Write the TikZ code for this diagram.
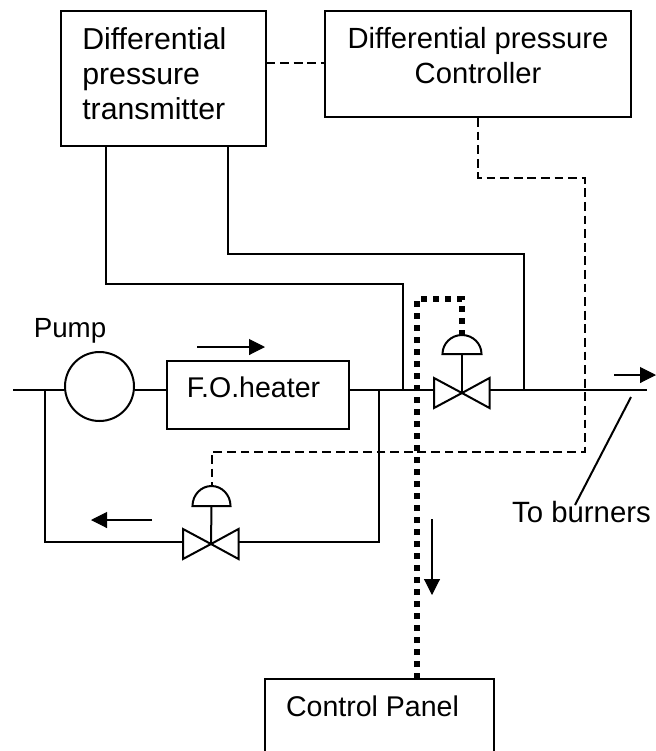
\documentclass[tikz,border=0pt]{standalone}
\usepackage{fontspec}
\setmainfont{Liberation Sans}
\usetikzlibrary{arrows.meta}
\tikzset{
 x=0.75pt,y=-0.75pt,
 box/.style={draw,line width=1.5pt,inner sep=0pt,minimum width=#1},
 lbl/.style={font=\fontsize{#1}{26.25}\selectfont,inner sep=0pt},
 pipe/.style={line width=1.5pt},
 sig/.style={line width=1.5pt,dash pattern=on 6.6pt off 3.6pt},
 heavydots/.style={line width=4.6pt,dash pattern=on 4.5pt off 4.5pt},
 arr/.style={line width=0.8pt,-{Triangle[length=12pt,width=12pt]},shorten >=0pt},
 valve/.style={draw,line width=1.5pt,line join=miter},
}
\begin{document}
\begin{tikzpicture}
\useasboundingbox (0,0) rectangle (656,751);
% boxes
\node[box=153.75pt,minimum height=101.25pt] (tx) at (163,78.5) {};
\node[box=229.5pt,minimum height=79.5pt] (ctl) at (478,64) {};
\node[box=136.5pt,minimum height=51pt] (heater) at (258,394.5) {};
\node[circle,draw,line width=1.5pt,minimum size=51.75pt,inner sep=0pt] (pumpc) at (99.5,386.5) {};
% texts
\node[lbl=22.7,align=left,anchor=north west] (t1) at (82,27) {Differential\\pressure\\transmitter};
\node[lbl=21.9,align=center,anchor=north] (t2) at (478,27) {Differential pressure\\Controller};
\node[lbl=20.8,anchor=base] (pump) at (70,337) {Pump};
\node[lbl=21.4,anchor=base] (htext) at (253.5,397) {F.O.heater};
\node[lbl=22,anchor=base] (burn) at (581.5,522) {To burners};
\node[lbl=21.4,anchor=base] (panel) at (372.5,716.5) {Control Panel};
% control panel, open at the page bottom
\coordinate (pbl) at (265,751);
\coordinate (ptl) at (265,679);
\coordinate (ptr) at (493.5,679);
\coordinate (pbr) at (493.5,751);
% signal lines
\coordinate (s1) at (478,177.5);
\coordinate (s2) at (584.5,177.5);
\coordinate (s3) at (584.5,451.5);
\coordinate (s4) at (212,451.5);
\coordinate (d2top) at (212,486);
\draw[sig] (tx.east|-0,63)--(ctl.west|-0,63);
\draw[sig] (ctl.south-|s1)--(s1)--(s2)--(s3)--(s4)--(d2top);
% impulse lines
\coordinate (a1) at (105.5,146);
\coordinate (a2) at (105.5,283.5);
\coordinate (a3) at (402.5,283.5);
\coordinate (a4) at (402.5,390);
\coordinate (b1) at (227.5,146);
\coordinate (b2) at (227.5,254);
\coordinate (b3) at (524,254);
\coordinate (b4) at (524,390);
\draw[pipe] (a1)--(a2)--(a3)--(a4);
\draw[pipe] (b1)--(b2)--(b3)--(b4);
% main pipe
\coordinate (in) at (13,390);
\coordinate (out) at (647,390);
\coordinate (v1c) at (462,393);
\coordinate (v2c) at (211,544);
\draw[pipe] (in)--(pumpc.west|-in);
\draw[pipe] (pumpc.east|-in)--(heater.west|-in);
\draw[pipe] (heater.east|-in)--(434,390);
\draw[pipe] (489,390)--(out);
% bypass
\coordinate (l1) at (45,390);
\coordinate (l2) at (45,542);
\coordinate (r1) at (379,390);
\coordinate (r2) at (379,542);
\draw[pipe] (l1)--(l2)--(183,542);
\draw[pipe] (238,542)--(r2)--(r1);
% valves
\draw[valve] (v1c)--(434,378)--(434,408)--cycle;
\draw[valve] (v1c)--(489.5,378)--(489.5,408)--cycle;
\draw[pipe] (v1c)--(462,354);
\draw[valve] (442.5,354)--(481.5,354) arc[start angle=0,end angle=180,x radius=19.5pt*0.75,y radius=19pt*0.75]--cycle;
\draw[valve] (v2c)--(183,529)--(183,559)--cycle;
\draw[valve] (v2c)--(238.5,529)--(238.5,559)--cycle;
\draw[pipe] (v2c)--(211.5,506);
\draw[valve] (192.5,506)--(230.5,506) arc[start angle=0,end angle=180,x radius=19pt*0.75,y radius=20pt*0.75]--cycle;
% heavy dotted signal
\coordinate (dt1) at (417,299);
\coordinate (dt2) at (462,299);
\coordinate (dt3) at (462,335);
\draw[heavydots] (ptl-|dt1)--(dt1)--(dt2)--(dt3);
\draw[box=0pt] (pbl)--(ptl)--(ptr)--(pbr);
% flow arrows
\coordinate (fa1) at (197,347); \coordinate (fa2) at (265,347);
\coordinate (fb1) at (614,375); \coordinate (fb2) at (656,375);
\coordinate (fc1) at (152,520); \coordinate (fc2) at (91,520);
\coordinate (fd1) at (432,519); \coordinate (fd2) at (432,595);
\draw[arr] (fa1)--(fa2);
\draw[arr] (fb1)--(fb2);
\draw[arr] (fc1)--(fc2);
\draw[arr] (fd1)--(fd2);
% leader
\coordinate (k1) at (631,397); \coordinate (k2) at (575,505);
\draw[pipe] (k1)--(k2);
\end{tikzpicture}
\end{document}
